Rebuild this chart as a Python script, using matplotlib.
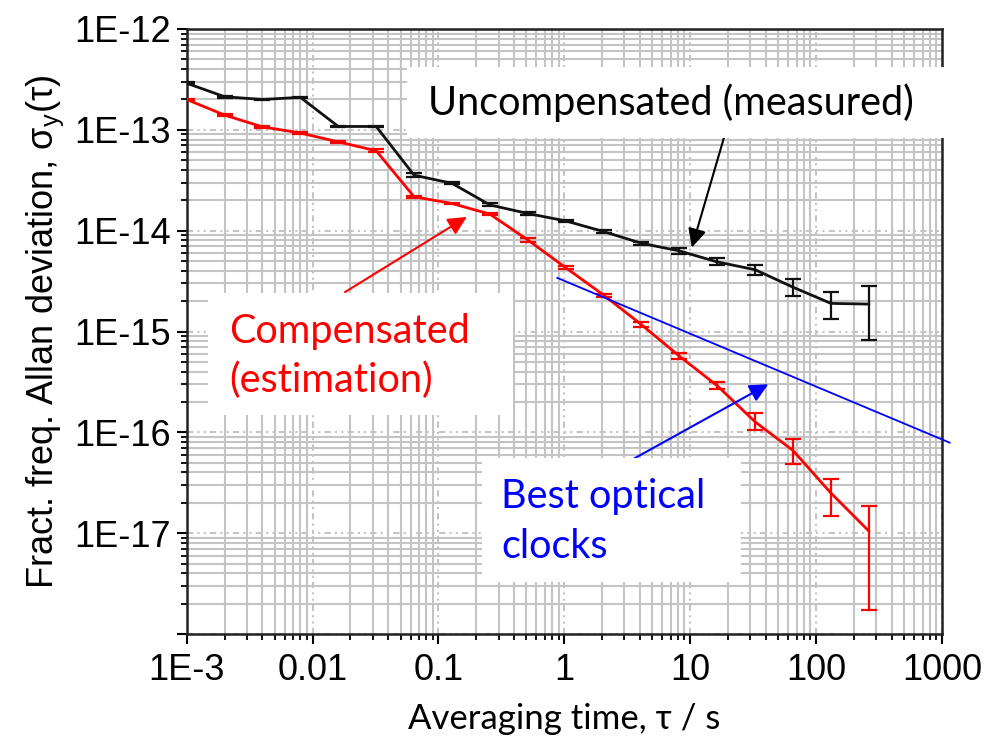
import matplotlib
matplotlib.use('Agg')
import matplotlib.pyplot as plt
from matplotlib.patches import Rectangle
import numpy as np

# averaging times (s)
tau = [0.001, 0.002, 0.004, 0.008, 0.016, 0.032, 0.064, 0.128, 0.256, 0.512,
       1.024, 2.048, 4.096, 8.192, 16.384, 32.768, 65.536, 131.072, 262.144]

# uncompensated (measured) Allan deviation + error bar ends
uncomp = [2.9e-13, 2.13e-13, 2.0e-13, 2.1e-13, 1.08e-13, 1.08e-13, 3.55e-14, 2.95e-14,
          1.8e-14, 1.48e-14, 1.25e-14, 9.8e-15, 7.5e-15, 6.3e-15, 4.9e-15, 4.1e-15,
          2.75e-15, 1.9e-15, 1.87e-15]
uncomp_lo = [2.85e-13, 2.09e-13, 1.96e-13, 2.06e-13, 1.06e-13, 1.06e-13, 3.40e-14, 2.88e-14,
             1.74e-14, 1.43e-14, 1.22e-14, 9.5e-15, 7.2e-15, 5.9e-15, 4.55e-15, 3.65e-15,
             2.25e-15, 1.33e-15, 8.2e-16]
uncomp_hi = [2.95e-13, 2.17e-13, 2.04e-13, 2.14e-13, 1.10e-13, 1.10e-13, 3.70e-14, 3.02e-14,
             1.86e-14, 1.53e-14, 1.28e-14, 1.01e-14, 7.8e-15, 6.8e-15, 5.3e-15, 4.55e-15,
             3.3e-15, 2.45e-15, 2.85e-15]

# compensated (estimation)
comp = [2.0e-13, 1.4e-13, 1.07e-13, 9.3e-14, 7.6e-14, 6.2e-14, 2.17e-14, 1.86e-14,
        1.46e-14, 8.1e-15, 4.3e-15, 2.3e-15, 1.17e-15, 5.7e-16, 2.9e-16, 1.27e-16,
        6.6e-17, 2.5e-17, 1.05e-17]
comp_lo = [1.96e-13, 1.36e-13, 1.05e-13, 9.1e-14, 7.4e-14, 6.0e-14, 2.12e-14, 1.82e-14,
           1.42e-14, 7.8e-15, 4.15e-15, 2.22e-15, 1.11e-15, 5.3e-16, 2.67e-16, 1.05e-16,
           4.9e-17, 1.49e-17, 1.72e-18]
comp_hi = [2.04e-13, 1.44e-13, 1.09e-13, 9.5e-14, 7.8e-14, 6.4e-14, 2.22e-14, 1.90e-14,
           1.50e-14, 8.4e-15, 4.45e-15, 2.38e-15, 1.23e-15, 6.1e-16, 3.13e-16, 1.54e-16,
           8.6e-17, 3.46e-17, 1.85e-17]

# best optical clocks reference line
clock_tau = [0.88, 1150]
clock_sig = [3.4e-15, 7.9e-17]

xticks = [1e-3, 1e-2, 1e-1, 1, 10, 100, 1000]
xlabels = ['1E-3', '0.01', '0.1', '1', '10', '100', '1000']
yticks = [1e-12, 1e-13, 1e-14, 1e-15, 1e-16, 1e-17, 1e-18]
ylabels = ['1E-12', '1E-13', '1E-14', '1E-15', '1E-16', '1E-17', '']

plt.rcParams['font.family'] = ['Liberation Sans', 'DejaVu Sans']
ann_font = ['Lato', 'Liberation Sans', 'DejaVu Sans']

W, H = 985, 738
fig = plt.figure(figsize=(W/100, H/100), dpi=100)
ax = fig.add_axes([186.7/W, 1-634/H, (942-186.7)/W, (634-29)/H])

def fx(x):
    return x/W
def fy(y):
    return 1-y/H

ax.set_xscale('log')
ax.set_yscale('log')
ax.set_xlim(1e-3, 1000)
ax.set_ylim(1e-18, 1e-12)

ax.grid(which='minor', color='#c4c4c4', lw=1.5, ls='-')
ax.grid(which='major', color='#c4c4c4', lw=1.5, ls=(0, (3, 2, 1, 2, 1, 2)))
ax.set_axisbelow(True)

u = np.array(uncomp); c = np.array(comp)
ax.errorbar(tau, u, yerr=[u-np.array(uncomp_lo), np.array(uncomp_hi)-u], color='#111111',
            lw=2, elinewidth=1.6, capsize=5.5, capthick=1.6, zorder=4)
ax.errorbar(tau, c, yerr=[c-np.array(comp_lo), np.array(comp_hi)-c], color='#ff0000',
            lw=2, elinewidth=1.6, capsize=5.5, capthick=1.6, zorder=5)
ax.plot(clock_tau, clock_sig, color='#0000ff', lw=1.3, clip_on=False, zorder=6)

ax.set_xticks(xticks)
ax.set_xticklabels(xlabels)
ax.set_yticks(yticks)
ax.set_yticklabels(ylabels)
ax.tick_params(which='major', direction='out', length=7.5, width=1.5, labelsize=26, pad=4)
ax.tick_params(which='minor', direction='out', length=4.5, width=1.3)
ax.tick_params(axis='x', which='major', pad=6)
for s in ax.spines.values():
    s.set_linewidth(1.8)
    s.set_color('#222222')

ax.set_xlabel('Averaging time, τ / s', fontsize=25, family=ann_font, labelpad=11)
ax.set_ylabel('Fract. freq. Allan deviation, σ$_\\mathregular{y}$(τ)', fontsize=26, labelpad=6)

# white label boxes
boxes = [(407, 67, 945, 138), (208, 293, 513, 415), (482, 458, 741, 582)]
for x0, y0, x1, y1 in boxes:
    fig.add_artist(Rectangle((fx(x0), fy(y1)), fx(x1)-fx(x0), fy(y0)-fy(y1),
                             transform=fig.transFigure, fc='white', ec='none', zorder=7))

fs = 28.5
fig.text(fx(428), fy(115), 'Uncompensated (measured)', fontsize=fs, family=ann_font,
         color='black', va='baseline', zorder=8)
fig.text(fx(229), fy(343), 'Compensated', fontsize=fs, family=ann_font,
         color='#ff0000', va='baseline', zorder=8)
fig.text(fx(229), fy(392), '(estimation)', fontsize=fs, family=ann_font,
         color='#ff0000', va='baseline', zorder=8)
fig.text(fx(501), fy(508), 'Best optical', fontsize=fs, family=ann_font,
         color='#0000ff', va='baseline', zorder=8)
fig.text(fx(501), fy(558), 'clocks', fontsize=fs, family=ann_font,
         color='#0000ff', va='baseline', zorder=8)

arrow = dict(arrowstyle='-|>,head_length=0.45,head_width=0.22', lw=1.5,
             mutation_scale=25, shrinkA=0, shrinkB=0)
ax.annotate('', xy=(10.3, 6.8e-15), xytext=(18.5, 8.3e-14),
            arrowprops=dict(arrow, color='black'), zorder=8)
ax.annotate('', xy=(0.168, 1.37e-14), xytext=(0.0181, 2.46e-15),
            arrowprops=dict(arrow, color='#ff0000'), zorder=8)
ax.annotate('', xy=(41.7, 3.0e-16), xytext=(3.49, 5.4e-17),
            arrowprops=dict(arrow, color='#0000ff'), zorder=8)

fig.savefig('out.png', dpi=100)
